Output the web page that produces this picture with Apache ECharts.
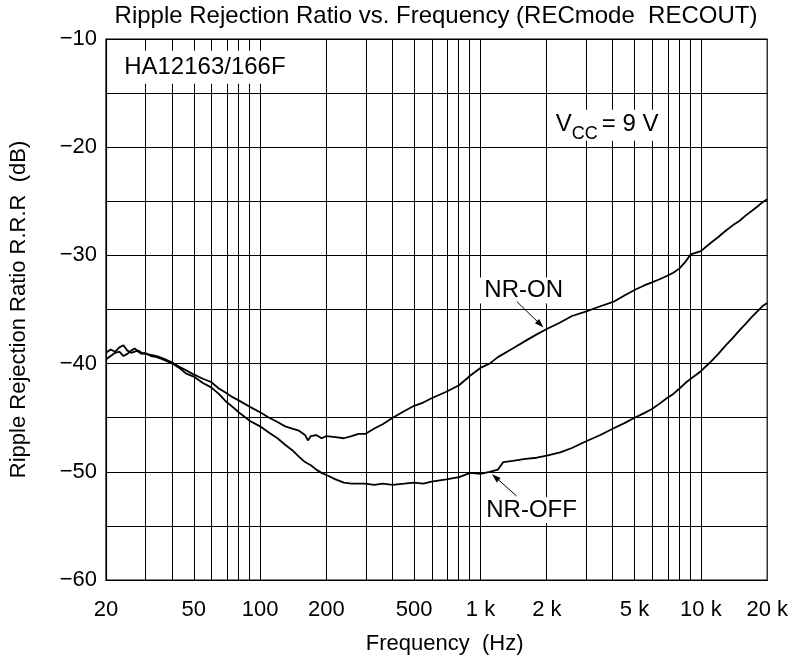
<!DOCTYPE html>
<html><head><meta charset="utf-8">
<script src="https://cdn.jsdelivr.net/npm/echarts@6/dist/echarts.min.js"></script>
<style>html,body{margin:0;padding:0;background:#fff}#c{width:791px;height:660px}</style>
</head><body><div id="c"></div>
<script>
// ---- data ----
const freqOn = [20,21,22,23,24,25,26,27,28,29,30,32,34,36,38,40,43,46,50,55,60,65,70,75,80,90,100,110,120,130,140,150,160,165,170,180,190,200,220,240,260,280,300,330,360,400,450,500,550,600,700,800,900,1000,1100,1200,1400,1600,1800,2000,2300,2600,3000,3500,4000,4500,5000,5500,6000,6500,7000,7500,8000,8500,9000,10000,11000,12000,13000,14000,15000,16000,17000,18000,19000,20000];
const dbOn   = [-39.0,-38.7,-38.9,-38.5,-38.3,-38.8,-39.0,-38.9,-38.8,-39.0,-39.1,-39.2,-39.3,-39.5,-39.7,-39.9,-40.3,-40.6,-41.0,-41.4,-41.7,-42.3,-42.7,-43.1,-43.4,-44.0,-44.5,-45.0,-45.4,-45.8,-46.0,-46.2,-46.6,-47.1,-46.7,-46.6,-46.9,-46.7,-46.8,-46.9,-46.7,-46.5,-46.5,-46.0,-45.6,-45.0,-44.4,-43.9,-43.6,-43.2,-42.6,-42.0,-41.1,-40.4,-40.0,-39.4,-38.6,-37.9,-37.3,-36.8,-36.2,-35.6,-35.2,-34.7,-34.3,-33.7,-33.2,-32.8,-32.5,-32.2,-31.9,-31.6,-31.2,-30.6,-29.9,-29.6,-28.9,-28.3,-27.7,-27.2,-26.8,-26.3,-25.9,-25.5,-25.1,-24.8];
const freqOff = [20,21,22,23,24,25,26,27,28,29,30,32,34,36,38,40,43,46,50,55,60,65,70,75,80,90,100,110,120,130,140,150,160,170,180,190,200,220,240,260,280,300,330,360,400,450,500,550,600,700,800,900,1000,1100,1200,1270,1400,1600,1800,2000,2300,2600,3000,3500,4000,4500,5000,5500,6000,6500,7000,7500,8000,8500,9000,10000,11000,12000,13000,14000,15000,16000,17000,18000,19000,20000];
const dbOff   = [-39.6,-39.3,-39.0,-38.9,-39.3,-39.1,-38.8,-38.6,-38.9,-39.1,-39.0,-39.3,-39.4,-39.6,-39.8,-40.0,-40.4,-40.9,-41.2,-41.8,-42.2,-42.8,-43.5,-44.0,-44.5,-45.3,-45.8,-46.4,-46.9,-47.5,-48.0,-48.6,-49.1,-49.4,-49.8,-50.1,-50.3,-50.7,-51.0,-51.1,-51.1,-51.1,-51.2,-51.1,-51.2,-51.1,-51.0,-51.1,-50.9,-50.7,-50.5,-50.1,-50.2,-50.0,-49.8,-49.1,-49.0,-48.8,-48.7,-48.5,-48.2,-47.8,-47.2,-46.6,-46.0,-45.5,-45.0,-44.6,-44.2,-43.7,-43.2,-42.8,-42.3,-41.8,-41.4,-40.7,-39.9,-39.1,-38.3,-37.6,-36.9,-36.3,-35.7,-35.2,-34.7,-34.4];
const gridFreqs = [30,40,50,60,70,80,90,100,200,300,400,500,600,700,800,900,1000,2000,3000,4000,5000,6000,7000,8000,9000,10000];
const tickFreqs  = [20,50,100,200,500,1000,2000,5000,10000,20000];
const tickLabels = ['20','50','100','200','500','1 k','2 k','5 k','10 k','20 k'];
const seriesNames = ['NR-ON','NR-OFF'];

// ---- chart ----
const FONT = '"Liberation Sans", Arial, Helvetica, sans-serif';
const lg = f => Math.log10(f);
const chart = echarts.init(document.getElementById('c'), null, {renderer: 'canvas'});

const toPairs = (fs, ds) => fs.map((f, i) => [lg(f), ds[i]]);

function tickLabel(v) {
  for (let i = 0; i < tickFreqs.length; i++) {
    if (Math.abs(lg(tickFreqs[i]) - v) < 1e-6) return tickLabels[i];
  }
  return '';
}

const option = {
  animation: false,
  backgroundColor: '#fff',
  title: {
    text: 'Ripple Rejection Ratio vs. Frequency (RECmode  RECOUT)',
    left: 436, top: 4, padding: 0, textAlign: 'center',
    textStyle: {fontFamily: FONT, fontSize: 24, fontWeight: 'normal', color: '#000'}
  },
  grid: {left: 102, right: 21, top: 39, bottom: 79, show: true, borderColor: '#000', borderWidth: 1.2, containLabel: false},
  xAxis: {
    type: 'value', min: lg(20), max: lg(20000),
    name: 'Frequency  (Hz)', nameLocation: 'middle', nameGap: 53,
    nameTextStyle: {fontFamily: FONT, fontSize: 22, color: '#000', padding: [0, 0, 0, 16]},
    axisLine: {show: true, lineStyle: {color: '#000', width: 1.2}},
    axisTick: {show: false},
    splitLine: {show: false},
    axisLabel: {
      customValues: tickFreqs.map(lg), formatter: tickLabel, margin: 19,
      fontFamily: FONT, fontSize: 22, color: '#000'
    }
  },
  yAxis: {
    type: 'value', min: -60, max: -10, interval: 5,
    name: 'Ripple Rejection Ratio R.R.R  (dB)', nameLocation: 'middle', nameGap: 76, nameRotate: 90,
    nameTextStyle: {fontFamily: FONT, fontSize: 22, color: '#000'},
    axisLine: {show: true, lineStyle: {color: '#000', width: 1.2}},
    axisTick: {show: false},
    splitLine: {show: true, lineStyle: {color: '#000', width: 1}},
    axisLabel: {
      margin: 9, fontFamily: FONT, fontSize: 22, color: '#000',
      formatter: v => (Math.round(v) % 10 === 0 ? '\u2212' + Math.abs(Math.round(v)) : '')
    }
  },
  series: [
    {
      name: seriesNames[0], type: 'line', data: toPairs(freqOn, dbOn), showSymbol: false, symbol: 'none',
      lineStyle: {color: '#000', width: 1.8}, z: 5, silent: true,
      markLine: {
        silent: true, symbol: ['none', 'none'], label: {show: false}, animation: false,
        lineStyle: {color: '#000', width: 1, type: 'solid'}, emphasis: {disabled: true},
        data: gridFreqs.map(f => ({xAxis: lg(f)}))
      }
    },
    {
      name: seriesNames[1], type: 'line', data: toPairs(freqOff, dbOff), showSymbol: false, symbol: 'none',
      lineStyle: {color: '#000', width: 1.8}, z: 5, silent: true
    }
  ]
};
chart.setOption(option);

// ---- annotations positioned in data coordinates ----
const px = (f, db) => chart.convertToPixel({gridIndex: 0}, [lg(f), db]);
function boxedText(text, f, db, w, h, size) {
  const p = px(f, db);
  return {
    type: 'group', x: p[0], y: p[1], z: 100,
    children: [
      {type: 'rect', shape: {x: -w / 2, y: -h / 2, width: w, height: h}, style: {fill: '#fff'}, z: 100},
      {type: 'text', style: {text: text, x: 0, y: 0, align: 'center', verticalAlign: 'middle',
        font: size + 'px ' + FONT, fill: '#000'}, z: 101}
    ]
  };
}
function arrow(f1, d1, f2, d2) {
  const a = px(f1, d1), b = px(f2, d2);
  const ang = Math.atan2(b[1] - a[1], b[0] - a[0]);
  const L = 9, W = 3;
  const bx = b[0] - L * Math.cos(ang), by = b[1] - L * Math.sin(ang);
  return [
    {type: 'line', z: 102, shape: {x1: a[0], y1: a[1], x2: bx, y2: by}, style: {stroke: '#000', lineWidth: 1}},
    {type: 'polygon', z: 102, shape: {points: [[b[0], b[1]],
      [bx + W * Math.sin(ang), by - W * Math.cos(ang)], [bx - W * Math.sin(ang), by + W * Math.cos(ang)]]},
      style: {fill: '#000'}}
  ];
}
const vcc = px(3820, -18.2);
const graphics = [
  boxedText('HA12163/166F', 56.2, -12.6, 176, 33, 24),
  boxedText('NR-ON', 1571, -33.25, 90, 26, 24),
  boxedText('NR-OFF', 1706, -53.54, 100, 26, 24),
  {
    type: 'group', x: vcc[0], y: vcc[1], z: 100,
    children: [
      {type: 'rect', shape: {x: -60, y: -18, width: 116, height: 31}, style: {fill: '#fff'}, z: 100},
      {type: 'text', style: {text: 'V', x: -53, y: -3, align: 'left', verticalAlign: 'middle', font: '24px ' + FONT, fill: '#000'}, z: 101},
      {type: 'text', style: {text: 'CC', x: -37, y: 6, align: 'left', verticalAlign: 'middle', font: '18px ' + FONT, fill: '#000'}, z: 101},
      {type: 'text', style: {text: '= 9 V', x: -7, y: -3, align: 'left', verticalAlign: 'middle', font: '24px ' + FONT, fill: '#000'}, z: 101}
    ]
  }
].concat(arrow(1461, -34.26, 1932, -36.66), arrow(1461, -52.25, 1128, -50.22));
chart.setOption({graphic: graphics});
</script>
</body></html>
